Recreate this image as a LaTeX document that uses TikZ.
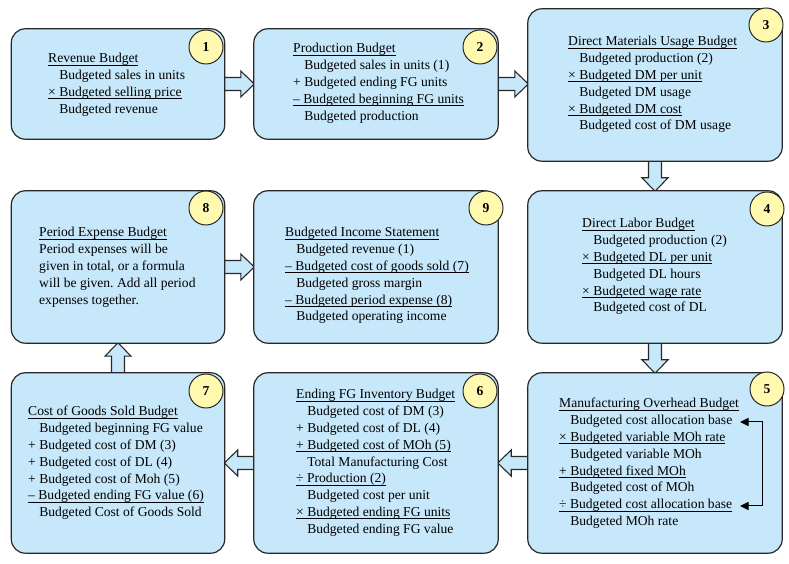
\documentclass[tikz,border=0pt]{standalone}
\usepackage{fontspec}
\setmainfont{Liberation Serif}
\usetikzlibrary{arrows.meta,calc}
\definecolor{boxfill}{RGB}{198,232,250}
\definecolor{numfill}{RGB}{255,250,175}
\definecolor{edge}{RGB}{40,40,40}
\frenchspacing
\newsavebox\ulbox
\newcommand\ulx[1]{\sbox\ulbox{#1}\rlap{\rule[-2.6pt]{\wd\ulbox}{0.8pt}}\usebox\ulbox}
\newcommand\Lx[1]{\hbox{#1}}
\newcommand\Ix[1]{\hbox{\phantom{+ }#1}}
\newcommand\Ux[1]{\hbox{\ulx{#1}}}
\newcommand\Stack[1]{\vtop{\baselineskip=16.8pt\lineskiplimit=-20pt\lineskip=0pt #1}}
\newcommand\rarr[2]{\draw[barrow] let \p1=(#1.east), \p2=(#2.west) in
  (\x1-3pt,\y1-6.5pt) -- (\x2-13pt,\y1-6.5pt) -- (\x2-13pt,\y1-13pt) -- (\x2+0.5pt,\y1)
  -- (\x2-13pt,\y1+13pt) -- (\x2-13pt,\y1+6.5pt) -- (\x1-3pt,\y1+6.5pt) -- cycle;}
\newcommand\larr[2]{\draw[barrow] let \p1=(#1.west), \p2=(#2.east) in
  (\x1+3pt,\y1-6.5pt) -- (\x2+13pt,\y1-6.5pt) -- (\x2+13pt,\y1-13pt) -- (\x2-0.5pt,\y1)
  -- (\x2+13pt,\y1+13pt) -- (\x2+13pt,\y1+6.5pt) -- (\x1+3pt,\y1+6.5pt) -- cycle;}
\newcommand\darr[2]{\draw[barrow] let \p1=(#1.south), \p2=(#2.north) in
  (\x1-6.5pt,\y1+3pt) -- (\x1-6.5pt,\y2+13pt) -- (\x1-13pt,\y2+13pt) -- (\x1,\y2-0.5pt)
  -- (\x1+13pt,\y2+13pt) -- (\x1+6.5pt,\y2+13pt) -- (\x1+6.5pt,\y1+3pt) -- cycle;}
\newcommand\uarr[2]{\draw[barrow] let \p1=(#1.north), \p2=(#2.south) in
  (\x1-6.5pt,\y1-3pt) -- (\x1-6.5pt,\y2-13pt) -- (\x1-13pt,\y2-13pt) -- (\x1,\y2+0.5pt)
  -- (\x1+13pt,\y2-13pt) -- (\x1+6.5pt,\y2-13pt) -- (\x1+6.5pt,\y1-3pt) -- cycle;}
\tikzset{
  box/.style={draw=edge, line width=1.2pt, fill=boxfill, rounded corners=14pt, inner sep=0pt},
  num/.style={circle, draw=edge, line width=1pt, fill=numfill, minimum size=34pt, inner sep=0pt,
    font=\fontsize{13.6}{16}\selectfont\bfseries},
  txt/.style={inner sep=0pt, anchor=base west, font=\fontsize{13.6}{16.8}\selectfont},
  barrow/.style={draw=edge, line width=1.1pt, fill=boxfill, line join=miter},
  brk/.style={draw=black, line width=1pt, arrows={Triangle[length=8.5pt,width=8pt]-Triangle[length=8.5pt,width=8pt]}}
}
\begin{document}
\begin{tikzpicture}[x=1pt,y=1pt]
\useasboundingbox (0,0) rectangle (789,564);
\path
  (118,480) node[minimum width=213pt, minimum height=110pt, inner sep=0pt] (b1) {}
  (376,480) node[minimum width=244pt, minimum height=110pt, inner sep=0pt] (b2) {}
  (655,479) node[minimum width=254pt, minimum height=152pt, inner sep=0pt] (b3) {}
  (118,297) node[minimum width=213pt, minimum height=152pt, inner sep=0pt] (b8) {}
  (376,297) node[minimum width=244pt, minimum height=152pt, inner sep=0pt] (b9) {}
  (655,297) node[minimum width=254pt, minimum height=152pt, inner sep=0pt] (b4) {}
  (118,101) node[minimum width=213pt, minimum height=180pt, inner sep=0pt] (b7) {}
  (376,101) node[minimum width=244pt, minimum height=180pt, inner sep=0pt] (b6) {}
  (655,101) node[minimum width=254pt, minimum height=180pt, inner sep=0pt] (b5) {};
% block arrows
\rarr{b1}{b2}
\rarr{b2}{b3}
\darr{b3}{b4}
\darr{b4}{b5}
\larr{b5}{b6}
\larr{b6}{b7}
\uarr{b7}{b8}
\rarr{b8}{b9}
% visible boxes
\foreach \b in {b1,b2,b3,b8,b9,b4,b7,b6,b5}
  \draw[box] (\b.south west) rectangle (\b.north east);
% number circles
\node[num] (n1) at (206,517) {1};
\node[num] (n2) at (480,517) {2};
\node[num] (n3) at (766,539) {3};
\node[num] (n8) at (206,356) {8};
\node[num] (n9) at (486,356) {9};
\node[num] (n4) at (767,355) {4};
\node[num] (n7) at (206,173) {7};
\node[num] (n6) at (480,173) {6};
\node[num] (n5) at (767,175) {5};
% texts
\node[txt] (t1) at (48,501) {\Stack{%
  \Ux{Revenue Budget}
  \Ix{Budgeted sales in units}
  \Ux{× Budgeted selling price}
  \Ix{Budgeted revenue}}};
\node[txt] (t2) at (293,511) {\Stack{%
  \Ux{Production Budget}
  \Ix{Budgeted sales in units (1)}
  \Lx{+ Budgeted ending FG units}
  \Ux{– Budgeted beginning FG units}
  \Ix{Budgeted production}}};
\node[txt] (t3) at (568,518) {\Stack{%
  \Ux{Direct Materials Usage Budget}
  \Ix{Budgeted production (2)}
  \Ux{× Budgeted DM per unit}
  \Ix{Budgeted DM usage}
  \Ux{× Budgeted DM cost}
  \Ix{Budgeted cost of DM usage}}};
\node[txt] (t8) at (39,327) {\Stack{%
  \Ux{Period Expense Budget}
  \Lx{Period expenses will be}
  \Lx{given in total, or a formula}
  \Lx{will be given. Add all period}
  \Lx{expenses together.}}};
\node[txt] (t9) at (285,327) {\Stack{%
  \Ux{Budgeted Income Statement}
  \Ix{Budgeted revenue (1)}
  \Ux{– Budgeted cost of goods sold (7)}
  \Ix{Budgeted gross margin}
  \Ux{– Budgeted period expense (8)}
  \Ix{Budgeted operating income}}};
\node[txt] (t4) at (582,336) {\Stack{%
  \Ux{Direct Labor Budget}
  \Ix{Budgeted production (2)}
  \Ux{× Budgeted DL per unit}
  \Ix{Budgeted DL hours}
  \Ux{× Budgeted wage rate}
  \Ix{Budgeted cost of DL}}};
\node[txt] (t7) at (28,148) {\Stack{%
  \Ux{Cost of Goods Sold Budget}
  \Ix{Budgeted beginning FG value}
  \Lx{+ Budgeted cost of DM (3)}
  \Lx{+ Budgeted cost of DL (4)}
  \Lx{+ Budgeted cost of Moh (5)}
  \Ux{– Budgeted ending FG value (6)}
  \Ix{Budgeted Cost of Goods Sold}}};
\node[txt] (t6) at (296,165) {\Stack{%
  \Ux{Ending FG Inventory Budget}
  \Ix{Budgeted cost of DM (3)}
  \Lx{+ Budgeted cost of DL (4)}
  \Ux{+ Budgeted cost of MOh (5)}
  \Ix{Total Manufacturing Cost}
  \Ux{÷ Production (2)}
  \Ix{Budgeted cost per unit}
  \Ux{× Budgeted ending FG units}
  \Ix{Budgeted ending FG value}}};
\node[txt] (t5) at (559,156) {\Stack{%
  \Ux{Manufacturing Overhead Budget}
  \Ix{Budgeted cost allocation base}
  \Ux{× Budgeted variable MOh rate}
  \Ix{Budgeted variable MOh}
  \Ux{+ Budgeted fixed MOh}
  \Ix{Budgeted cost of MOh}
  \Ux{÷ Budgeted cost allocation base}
  \Ix{Budgeted MOh rate}}};
% bracket arrow in box 5
\coordinate (ca) at (740,142);
\coordinate (cb) at (740,58);
\coordinate (cr) at (762,100);
\draw[brk] (ca) -- (ca -| cr) -- (cb -| cr) -- (cb);
\end{tikzpicture}
\end{document}
